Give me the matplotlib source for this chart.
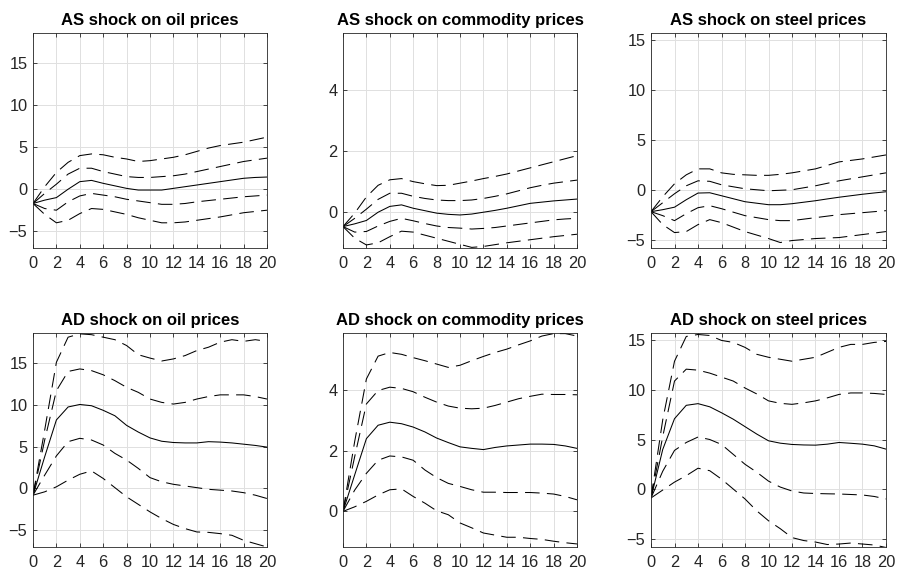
import matplotlib
matplotlib.use("Agg")
import matplotlib.pyplot as plt
import numpy as np

plt.rcParams['font.family'] = ['Liberation Sans', 'DejaVu Sans']

# horizons
h = list(range(21))

titles = ["AS shock on oil prices", "AS shock on commodity prices", "AS shock on steel prices",
          "AD shock on oil prices", "AD shock on commodity prices", "AD shock on steel prices"]

# AS shock on oil
as_oil_mid = [-1.7, -1.3, -1.0, 0.0, 0.9, 1.05, 0.7, 0.4, 0.1, -0.1, -0.1, -0.1, 0.1, 0.3, 0.5, 0.7, 0.9, 1.1, 1.3, 1.4, 1.45]
as_oil_up2 = [-1.7, 0.3, 2.0, 3.2, 4.0, 4.2, 4.1, 3.8, 3.6, 3.3, 3.4, 3.6, 3.8, 4.1, 4.5, 4.9, 5.2, 5.4, 5.6, 5.9, 6.2]
as_oil_up1 = [-1.7, -0.5, 0.6, 1.8, 2.5, 2.5, 2.1, 1.8, 1.5, 1.4, 1.4, 1.5, 1.6, 1.8, 2.1, 2.4, 2.7, 3.0, 3.3, 3.5, 3.7]
as_oil_lo1 = [-1.7, -2.3, -2.5, -1.5, -0.8, -0.5, -0.7, -0.9, -1.2, -1.4, -1.6, -1.8, -1.8, -1.7, -1.5, -1.35, -1.2, -1.05, -0.9, -0.8, -0.7]
as_oil_lo2 = [-1.7, -3.0, -4.0, -3.7, -2.9, -2.3, -2.4, -2.7, -3.0, -3.4, -3.7, -4.0, -4.0, -3.9, -3.7, -3.5, -3.3, -3.05, -2.8, -2.65, -2.5]

# AS shock on commodity
as_com_mid = [-0.47, -0.38, -0.27, 0.0, 0.19, 0.24, 0.13, 0.05, -0.03, -0.07, -0.09, -0.06, 0.0, 0.06, 0.13, 0.21, 0.29, 0.33, 0.37, 0.4, 0.43]
as_com_up2 = [-0.47, -0.03, 0.5, 0.88, 1.06, 1.1, 1.0, 0.93, 0.87, 0.88, 0.95, 1.02, 1.1, 1.17, 1.25, 1.35, 1.45, 1.55, 1.65, 1.75, 1.85]
as_com_up1 = [-0.47, -0.2, 0.1, 0.42, 0.62, 0.62, 0.52, 0.45, 0.4, 0.38, 0.38, 0.4, 0.45, 0.52, 0.6, 0.7, 0.8, 0.88, 0.95, 1.0, 1.05]
as_com_lo1 = [-0.47, -0.65, -0.63, -0.45, -0.3, -0.2, -0.28, -0.37, -0.45, -0.5, -0.52, -0.55, -0.53, -0.5, -0.45, -0.4, -0.35, -0.3, -0.25, -0.22, -0.2]
as_com_lo2 = [-0.47, -0.85, -1.07, -1.0, -0.8, -0.62, -0.65, -0.75, -0.85, -0.95, -1.05, -1.15, -1.12, -1.06, -1.0, -0.95, -0.9, -0.85, -0.8, -0.76, -0.72]

# AS shock on steel
as_stl_mid = [-2.2, -2.0, -1.75, -1.0, -0.33, -0.3, -0.6, -0.9, -1.2, -1.35, -1.5, -1.5, -1.4, -1.25, -1.1, -0.92, -0.75, -0.6, -0.45, -0.32, -0.2]
as_stl_up2 = [-2.2, -0.7, 0.6, 1.5, 2.1, 2.1, 1.7, 1.55, 1.5, 1.45, 1.45, 1.55, 1.7, 1.9, 2.1, 2.45, 2.8, 2.95, 3.1, 3.3, 3.5]
as_stl_up1 = [-2.2, -1.3, -0.4, 0.4, 0.9, 0.85, 0.5, 0.3, 0.1, 0.0, -0.1, -0.05, 0.0, 0.2, 0.4, 0.65, 0.9, 1.1, 1.3, 1.5, 1.7]
as_stl_lo1 = [-2.2, -2.6, -3.1, -2.4, -1.8, -1.6, -1.9, -2.25, -2.6, -2.8, -3.0, -3.1, -3.1, -2.95, -2.8, -2.65, -2.5, -2.4, -2.3, -2.2, -2.1]
as_stl_lo2 = [-2.2, -3.5, -4.3, -4.2, -3.5, -3.0, -3.3, -3.75, -4.2, -4.55, -4.9, -5.3, -5.1, -5.0, -4.9, -4.85, -4.8, -4.65, -4.5, -4.35, -4.2]

# AD shock on oil
ad_oil_mid = [-0.8, 3.8, 8.2, 9.75, 10.05, 9.9, 9.35, 8.7, 7.55, 6.75, 6.05, 5.65, 5.5, 5.45, 5.45, 5.6, 5.55, 5.45, 5.3, 5.15, 4.95]
ad_oil_up2 = [-0.8, 7.0, 15.1, 18.1, 18.5, 18.4, 18.1, 17.8, 17.1, 16.0, 15.6, 15.25, 15.5, 15.9, 16.5, 16.9, 17.5, 17.8, 17.6, 17.8, 17.6]
ad_oil_up1 = [-0.8, 5.8, 11.7, 14.0, 14.3, 14.1, 13.6, 12.9, 12.1, 11.5, 10.7, 10.3, 10.1, 10.3, 10.7, 11.0, 11.2, 11.2, 11.2, 11.0, 10.7]
ad_oil_lo1 = [-0.8, 1.6, 3.9, 5.6, 6.0, 5.8, 5.2, 4.2, 3.4, 2.4, 1.3, 0.8, 0.5, 0.3, 0.1, -0.1, -0.2, -0.3, -0.5, -0.8, -1.2]
ad_oil_lo2 = [-0.8, -0.4, 0.2, 1.0, 1.7, 2.1, 1.2, 0.1, -1.0, -1.9, -2.8, -3.6, -4.3, -4.8, -5.2, -5.25, -5.4, -5.6, -6.2, -6.6, -7.0]

# AD shock on commodity
ad_com_mid = [0.0, 1.2, 2.39, 2.83, 2.93, 2.88, 2.77, 2.61, 2.41, 2.26, 2.12, 2.07, 2.03, 2.1, 2.15, 2.18, 2.21, 2.21, 2.2, 2.15, 2.07]
ad_com_up2 = [0.0, 2.3, 4.35, 5.1, 5.22, 5.16, 5.05, 4.95, 4.84, 4.73, 4.8, 4.95, 5.09, 5.22, 5.33, 5.47, 5.6, 5.76, 5.84, 5.84, 5.76]
ad_com_up1 = [0.0, 1.8, 3.53, 3.97, 4.08, 4.04, 3.93, 3.75, 3.59, 3.46, 3.39, 3.37, 3.39, 3.48, 3.59, 3.7, 3.78, 3.85, 3.84, 3.84, 3.83]
ad_com_lo1 = [0.0, 0.7, 1.25, 1.68, 1.82, 1.79, 1.68, 1.36, 1.11, 0.92, 0.82, 0.71, 0.63, 0.63, 0.62, 0.62, 0.62, 0.6, 0.57, 0.49, 0.38]
ad_com_lo2 = [0.0, 0.15, 0.33, 0.54, 0.71, 0.74, 0.49, 0.27, 0.02, -0.11, -0.38, -0.54, -0.71, -0.78, -0.85, -0.85, -0.89, -0.92, -0.98, -1.03, -1.07]

# AD shock on steel
ad_stl_mid = [-0.9, 4.0, 7.1, 8.45, 8.62, 8.3, 7.7, 7.05, 6.3, 5.55, 4.87, 4.63, 4.5, 4.45, 4.43, 4.53, 4.7, 4.62, 4.53, 4.36, 4.03]
ad_stl_up2 = [-0.9, 7.0, 12.9, 15.4, 15.6, 15.5, 15.0, 14.8, 14.3, 13.6, 13.3, 13.1, 12.9, 13.1, 13.3, 13.8, 14.3, 14.6, 14.6, 14.8, 14.9]
ad_stl_up1 = [-0.9, 5.3, 10.9, 12.1, 12.0, 11.7, 11.3, 10.9, 10.2, 9.6, 8.9, 8.65, 8.55, 8.7, 8.9, 9.2, 9.55, 9.7, 9.7, 9.65, 9.55]
ad_stl_lo1 = [-0.9, 1.8, 3.9, 4.7, 5.25, 5.0, 4.5, 3.5, 2.5, 1.7, 0.8, 0.2, -0.2, -0.4, -0.45, -0.48, -0.5, -0.55, -0.6, -0.75, -1.0]
ad_stl_lo2 = [-0.9, -0.1, 0.7, 1.35, 2.1, 1.85, 1.0, 0.0, -1.0, -2.2, -3.2, -4.0, -4.9, -5.2, -5.35, -5.6, -5.55, -5.45, -5.55, -5.65, -5.9]

panels = [
    (as_oil_mid, [as_oil_up2, as_oil_up1, as_oil_lo1, as_oil_lo2]),
    (as_com_mid, [as_com_up2, as_com_up1, as_com_lo1, as_com_lo2]),
    (as_stl_mid, [as_stl_up2, as_stl_up1, as_stl_lo1, as_stl_lo2]),
    (ad_oil_mid, [ad_oil_up2, ad_oil_up1, ad_oil_lo1, ad_oil_lo2]),
    (ad_com_mid, [ad_com_up2, ad_com_up1, ad_com_lo1, ad_com_lo2]),
    (ad_stl_mid, [ad_stl_up2, ad_stl_up1, ad_stl_lo1, ad_stl_lo2]),
]

# per column y settings
ylims = [(-7.0, 18.6), (-1.17, 5.86), (-5.85, 15.75)]
yticks = [[-5, 0, 5, 10, 15], [0, 2, 4], [-5, 0, 5, 10, 15]]

fig = plt.figure(figsize=(8.99, 5.73), dpi=100)

lefts = [33 / 899, 343 / 899, 651 / 899]
widths = [234 / 899, 234 / 899, 235 / 899]
bottoms = [1 - 248 / 573, 1 - 547 / 573]
heights = [215 / 573, 214 / 573]

dark = '#262626'

for i, (mid, bands) in enumerate(panels):
    r, c = divmod(i, 3)
    ax = fig.add_axes([lefts[c], bottoms[r], widths[c], heights[r]])
    for b in bands:
        ln, = ax.plot(h, b, color='black', lw=0.75)
        ln.set_dashes([14, 7])
    ax.plot(h, mid, color='black', lw=0.75)
    ax.set_xlim(0, 20)
    ax.set_ylim(*ylims[c])
    ax.set_xticks(range(0, 21, 2))
    ax.set_yticks(yticks[c])
    ax.grid(True, color='#e0e0e0', lw=0.7)
    ax.set_axisbelow(True)
    ax.tick_params(direction='in', top=True, right=True, length=3, width=0.6,
                   colors=dark, labelsize=11.8, labelcolor=dark)
    ax.tick_params(axis='x', pad=6)
    ax.tick_params(axis='y', pad=4)
    for s in ax.spines.values():
        s.set_color(dark)
        s.set_linewidth(0.6)
    ax.set_title(titles[i], fontsize=12, fontweight='bold', pad=6)

fig.savefig('out.png', dpi=100)
